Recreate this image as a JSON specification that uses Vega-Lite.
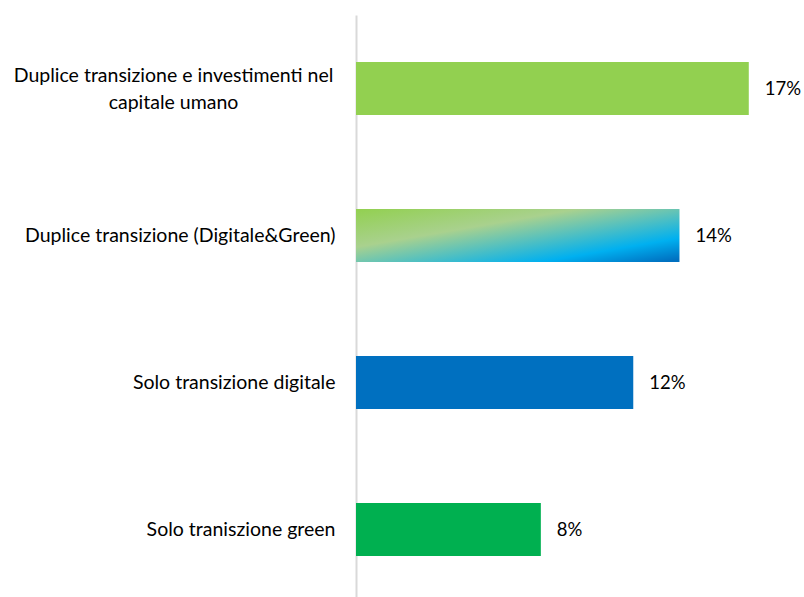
{
  "$schema": "https://vega.github.io/schema/vega-lite/v6.json",
  "width": 439,
  "height": 588,
  "autosize": {"type": "none"},
  "padding": {"left": 356, "top": 15, "right": 9, "bottom": 0},
  "background": "white",
  "config": {"view": {"stroke": null}, "font": "Lato"},
  "data": {"values": [
    {"label": "Duplice transizione e investimenti nel|capitale umano", "value": 0.17, "group": "capitale"},
    {"label": "Duplice transizione (Digitale&Green)", "value": 0.14, "group": "duplice"},
    {"label": "Solo transizione digitale", "value": 0.12, "group": "digitale"},
    {"label": "Solo traniszione green", "value": 0.08, "group": "green"}
  ]},
  "encoding": {
    "y": {
      "field": "label", "type": "nominal",
      "sort": ["Duplice transizione e investimenti nel|capitale umano", "Duplice transizione (Digitale&Green)", "Solo transizione digitale", "Solo traniszione green"],
      "scale": {"paddingInner": 0.64, "paddingOuter": 0.32},
      "axis": {
        "title": null, "ticks": false, "grid": false,
        "domain": true, "domainColor": "#d9d9d9", "domainWidth": 2,
        "labelFontSize": 19.5, "labelColor": "#000000",
        "labelPadding": {"condition": {"test": "indexof(datum.value, '|') >= 0", "value": 183}, "value": 21},
        "labelAlign": {"condition": {"test": "indexof(datum.value, '|') >= 0", "value": "center"}, "value": "right"},
        "labelLimit": 0, "labelLineHeight": 27,
        "labelOffset": {"condition": {"test": "indexof(datum.value, '|') >= 0", "value": -13}, "value": 0},
        "labelExpr": "split(datum.label, '|')"
      }
    },
    "x": {"field": "value", "type": "quantitative", "scale": {"domain": [0, 0.19]}, "axis": null}
  },
  "layer": [
    {
      "transform": [{"filter": "datum.group !== 'duplice'"}],
      "mark": {"type": "bar"},
      "encoding": {
        "color": {
          "field": "group", "type": "nominal", "legend": null,
          "scale": {"domain": ["capitale", "digitale", "green"], "range": ["#92d050", "#0070c0", "#00b050"]}
        }
      }
    },
    {
      "transform": [{"filter": "datum.group === 'duplice'"}],
      "mark": {
        "type": "bar",
        "color": {
          "gradient": "linear", "x1": 0, "y1": 0, "x2": 1, "y2": 0.95,
          "stops": [
            {"offset": 0, "color": "#92d050"},
            {"offset": 0.36, "color": "#a9d18e"},
            {"offset": 0.8, "color": "#00b0f0"},
            {"offset": 1, "color": "#0070c0"}
          ]
        }
      }
    },
    {
      "mark": {"type": "text", "align": "left", "baseline": "middle", "dx": 16, "fontSize": 18.5, "color": "#000000"},
      "encoding": {"text": {"field": "value", "type": "quantitative", "format": ".0%"}}
    }
  ]
}
